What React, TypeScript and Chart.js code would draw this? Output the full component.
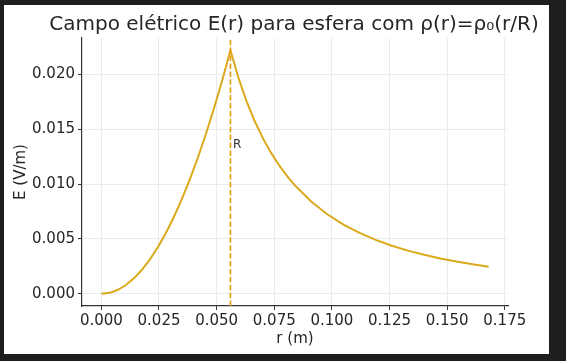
import React, { useEffect, useRef } from "react";
import { Chart, registerables } from "chart.js";

Chart.register(...registerables);

const radiusValues = [
  0, 0.0035, 0.007, 0.0105, 0.014, 0.0175, 0.021, 0.0245, 0.028, 0.0315, 0.035,
  0.0385, 0.042, 0.0455, 0.049, 0.0525, 0.056, 0.0595, 0.063, 0.0665, 0.07,
  0.0735, 0.077, 0.0805, 0.084, 0.091, 0.098, 0.105, 0.112, 0.119, 0.126,
  0.133, 0.14, 0.147, 0.154, 0.161, 0.168,
];
const fieldValues = [
  0, 0.0000867, 0.000347, 0.00078, 0.001388, 0.002168, 0.003122, 0.004249,
  0.00555, 0.007024, 0.008672, 0.010493, 0.012488, 0.014656, 0.016997,
  0.019512, 0.0222, 0.019665, 0.017541, 0.015743, 0.014208, 0.012887,
  0.011742, 0.010743, 0.009867, 0.008407, 0.007249, 0.006315, 0.00555,
  0.004916, 0.004385, 0.003936, 0.003552, 0.003222, 0.002936, 0.002686,
  0.002467,
];
const sphereRadius = 0.056;
const xTicks = [0, 0.025, 0.05, 0.075, 0.1, 0.125, 0.15, 0.175];
const yTicks = [0, 0.005, 0.01, 0.015, 0.02];
const xRange = [-0.0084, 0.1764];
const yRange = [-0.00111, 0.02331];
const titleText = "Campo elétrico E(r) para esfera com ρ(r)=ρ₀(r/R)";

const FONT = "'DejaVu Sans', sans-serif";

export default function App() {
  const ref = useRef<HTMLCanvasElement | null>(null);

  useEffect(() => {
    document.body.style.margin = "0";
    const canvas = ref.current!;
    const titlePlugin = {
      id: "mplTitle",
      afterDraw(chart: any) {
        const { ctx, chartArea } = chart;
        ctx.save();
        ctx.font = `20px ${FONT}`;
        ctx.fillStyle = "#262626";
        ctx.textAlign = "center";
        ctx.textBaseline = "alphabetic";
        ctx.fillText(titleText, (chartArea.left + chartArea.right) / 2 - 1, 25);
        const xs = chart.scales.x;
        const ys = chart.scales.y;
        ctx.font = `12px ${FONT}`;
        ctx.textAlign = "left";
        ctx.fillStyle = "#333";
        ctx.fillText(
          "R",
          xs.getPixelForValue(sphereRadius * 1.02),
          ys.getPixelForValue(0.0222 * 0.6)
        );
        ctx.restore();
      },
    };

    const chart = new Chart(canvas, {
      type: "scatter",
      data: {
        datasets: [
          {
            data: radiusValues.map((r, i) => ({ x: r, y: fieldValues[i] })),
            showLine: true,
            borderColor: "#dba91c",
            borderWidth: 2,
            pointRadius: 0,
            tension: 0,
            order: 2,
          },
          {
            data: [
              { x: sphereRadius, y: yRange[0] },
              { x: sphereRadius, y: yRange[1] },
            ],
            showLine: true,
            borderColor: "#e99a12",
            borderWidth: 1.6,
            borderDash: [5.5, 2.4],
            pointRadius: 0,
            order: 1,
          },
        ],
      },
      options: {
        animation: false,
        responsive: false,
        maintainAspectRatio: false,
        layout: { padding: { left: 0, right: 41, top: 33, bottom: 6 } },
        plugins: {
          legend: { display: false },
          tooltip: { enabled: false },
          title: { display: false },
        },
        scales: {
          x: {
            type: "linear",
            min: xRange[0],
            max: xRange[1],
            afterBuildTicks: (s: any) => {
              s.ticks = xTicks.map((v) => ({ value: v }));
            },
            afterFit: (s: any) => {
              s.height = 42;
            },
            ticks: {
              callback: (v: any) => Number(v).toFixed(3),
              font: { family: FONT, size: 15 },
              color: "#262626",
              padding: 2,
              maxRotation: 0,
              autoSkip: false,
            },
            grid: {
              color: "#ebebeb",
              tickColor: "#333",
              tickLength: 4,
              lineWidth: 1,
            },
            border: { display: true, color: "#333", width: 1.2 },
            title: {
              display: true,
              text: "r (m)",
              font: { family: FONT, size: 15 },
              color: "#262626",
              padding: { top: 0, bottom: 0 },
            },
          },
          y: {
            type: "linear",
            min: yRange[0],
            max: yRange[1],
            afterBuildTicks: (s: any) => {
              s.ticks = yTicks.map((v) => ({ value: v }));
            },
            afterFit: (s: any) => {
              s.width = 78;
            },
            ticks: {
              callback: (v: any) => Number(v).toFixed(3),
              font: { family: FONT, size: 15 },
              color: "#262626",
              padding: 3,
              autoSkip: false,
            },
            grid: {
              color: "#ebebeb",
              tickColor: "#333",
              tickLength: 4,
              lineWidth: 1,
            },
            border: { display: true, color: "#333", width: 1.2 },
            title: {
              display: true,
              text: "E (V/m)",
              font: { family: FONT, size: 15 },
              color: "#262626",
              padding: { top: 8, bottom: 0 },
            },
          },
        },
      },
      plugins: [titlePlugin],
    });
    return () => chart.destroy();
  }, []);

  return (
    <div
      style={{
        position: "relative",
        width: 566,
        height: 361,
        background: "#1e1e1e",
        overflow: "hidden",
      }}
    >
      <div
        style={{
          position: "absolute",
          left: 4,
          top: 5,
          width: 545,
          height: 349,
          background: "#ffffff",
        }}
      >
        <canvas ref={ref} width={545} height={349} style={{ display: "block" }} />
      </div>
    </div>
  );
}
